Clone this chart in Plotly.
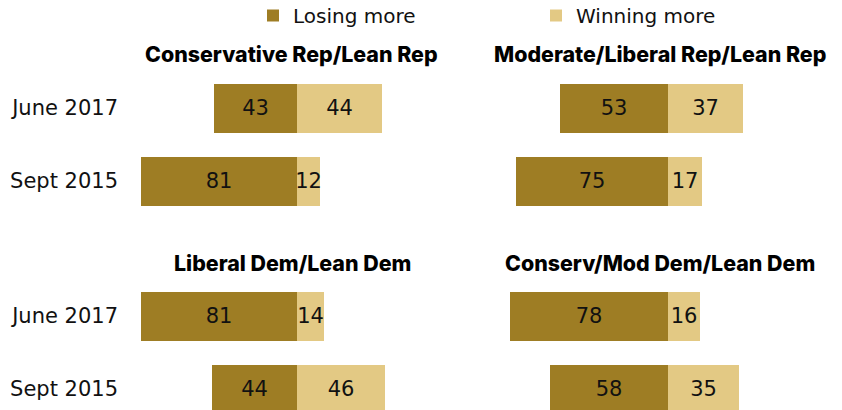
import plotly.graph_objects as go

# Survey waves (bottom to top within each panel)
waves = ["Sept 2015", "June 2017"]

# Panel titles
panel_titles = [
    "Conservative Rep/Lean Rep",
    "Moderate/Liberal Rep/Lean Rep",
    "Liberal Dem/Lean Dem",
    "Conserv/Mod Dem/Lean Dem",
]

# Share saying their side is losing more / winning more (ordered as waves)
losing_cons_rep = [81, 43]
winning_cons_rep = [12, 44]
losing_modlib_rep = [75, 53]
winning_modlib_rep = [17, 37]
losing_lib_dem = [44, 81]
winning_lib_dem = [46, 14]
losing_consmod_dem = [58, 78]
winning_consmod_dem = [35, 16]

series_names = ["Losing more", "Winning more"]

DARK = "#9E7D24"
LIGHT = "#E3C984"
TEXT = "#111111"
LABEL_FONT = "DejaVu Sans"
TITLE_FONT = "Inter"

W, H = 842, 410

panels = [
    (losing_cons_rep, winning_cons_rep),
    (losing_modlib_rep, winning_modlib_rep),
    (losing_lib_dem, winning_lib_dem),
    (losing_consmod_dem, winning_consmod_dem),
]

fig = go.Figure()

for i, (losing, winning) in enumerate(panels):
    ax = "" if i == 0 else str(i + 1)
    for name, vals, sign, color in (
        (series_names[0], losing, -1, DARK),
        (series_names[1], winning, 1, LIGHT),
    ):
        fig.add_trace(go.Bar(
            y=waves,
            x=[sign * v for v in vals],
            text=[str(v) for v in vals],
            orientation="h",
            name=name,
            legendgroup=name,
            showlegend=(i == 0),
            marker=dict(color=color, line=dict(width=0)),
            width=0.66,
            textposition="inside",
            insidetextanchor="middle",
            textangle=0,
            constraintext="none",
            insidetextfont=dict(family=LABEL_FONT, size=21, color=TEXT),
            hoverinfo="skip",
            xaxis="x" + ax,
            yaxis="y" + ax,
        ))

# Horizontal layout: left panels centred at x=297px, right panels at x=668px
left_start, left_end, left_center, left_scale = 119, 480, 297, 1.922
right_start, right_end, right_center, right_scale = 480, 842, 668, 2.029

left_range = [-(left_center - left_start) / left_scale, (left_end - left_center) / left_scale]
right_range = [-(right_center - right_start) / right_scale, (right_end - right_center) / right_scale]

hidden_x = dict(showgrid=False, zeroline=False, showticklabels=False, showline=False, fixedrange=True)

top_domain = [(H - 217.5) / H, (H - 71.5) / H]
bottom_domain = [0, (H - 279.5) / H]
bottom_range = [1.5 - (H - 279.5) / 73.0, 1.5]

def y_axis(domain, rng, labels):
    return dict(
        domain=domain, range=rng, type="category",
        categoryorder="array", categoryarray=waves,
        showgrid=False, zeroline=False, showline=False,
        showticklabels=labels, ticks="", ticklabelstandoff=0,
        tickfont=dict(family=LABEL_FONT, size=21, color=TEXT),
        fixedrange=True,
    )

fig.update_layout(
    width=W, height=H, autosize=False,
    margin=dict(l=0, r=0, t=0, b=0, pad=0, autoexpand=False),
    paper_bgcolor="white", plot_bgcolor="white",
    barmode="relative",
    bargap=0,
    uniformtext=dict(minsize=21, mode="show"),
    xaxis=dict(domain=[left_start / W, left_end / W], range=left_range, anchor="y", **hidden_x),
    xaxis2=dict(domain=[right_start / W, right_end / W], range=right_range, anchor="y2", **hidden_x),
    xaxis3=dict(domain=[left_start / W, left_end / W], range=left_range, anchor="y3", **hidden_x),
    xaxis4=dict(domain=[right_start / W, right_end / W], range=right_range, anchor="y4", **hidden_x),
    yaxis=y_axis(top_domain, [-0.5, 1.5], True),
    yaxis2=y_axis(top_domain, [-0.5, 1.5], False),
    yaxis3=y_axis(bottom_domain, bottom_range, True),
    yaxis4=y_axis(bottom_domain, bottom_range, False),
    showlegend=True,
    legend=dict(
        orientation="h",
        x=253 / W, xanchor="left",
        y=1 + 4 / H, yanchor="top",
        entrywidth=238, entrywidthmode="pixels",
        font=dict(family=LABEL_FONT, size=20, color=TEXT),
        bgcolor="rgba(0,0,0,0)", borderwidth=0,
        traceorder="normal",
        itemclick=False, itemdoubleclick=False,
    ),
)

# Panel titles
title_pos = [(291, 54), (660, 54), (292, 263), (660, 263)]
for text, (px, py) in zip(panel_titles, title_pos):
    fig.add_annotation(
        text=text,
        xref="paper", yref="paper",
        x=px / W, y=1 - py / H,
        xanchor="center", yanchor="middle",
        showarrow=False,
        font=dict(family=TITLE_FONT, size=21.4, color="#000000", weight=800),
    )

fig.write_html("out.html", config={"displayModeBar": False})
